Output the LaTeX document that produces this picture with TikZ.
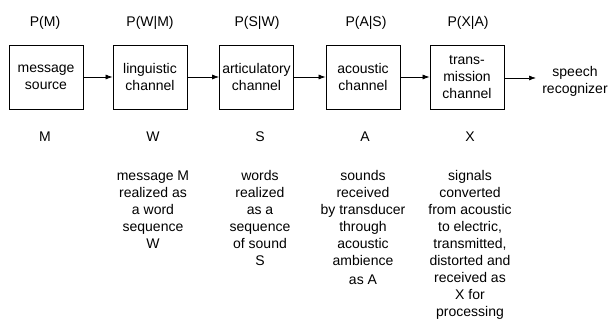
\documentclass[tikz,border=0pt]{standalone}
\usepackage{fontspec}
\setmainfont{Liberation Sans}
\usetikzlibrary{arrows.meta}
\begin{document}
\begin{tikzpicture}[x=1pt,y=1pt,
  every node/.style={font=\fontsize{14}{17}\selectfont, inner sep=0pt},
  blk/.style={draw, line width=0.8pt, minimum width=74pt, minimum height=64pt, align=center},
  desc/.style={align=center, anchor=north},
  lbl/.style={anchor=base},
  arr/.style={line width=0.7pt, -{Latex[length=7pt,width=5pt]}}]
\useasboundingbox (0,0) rectangle (609,328);
% boxes
\node[blk] (b1) at (46,251) {message\\source};
\node[blk] (b2) at (150,251) {linguistic\\channel};
\node[blk] (b3) at (256.5,251) {articulatory\\channel};
\node[blk] (b4) at (363,251) {acoustic\\channel};
\node[blk] (b5) at (467,251) {trans-\\mission\\channel};
\node[align=center] (sr) at (575,247) {speech\\recognizer};
\coordinate (end) at (536,250);
% arrows
\draw[arr] (b1.east) -- (b2.west);
\draw[arr] (b2.east) -- (b3.west);
\draw[arr] (b3.east) -- (b4.west);
\draw[arr] (b4.east) -- (b5.west);
\draw[arr] (b5.east |- end) -- (end);
% top labels
\node[lbl] (p1) at (45,301) {P(M)};
\node[lbl] (p2) at (150,301) {P(W|M)};
\node[lbl] (p3) at (257,301) {P(S|W)};
\node[lbl] (p4) at (366,301) {P(A|S)};
\node[lbl] (p5) at (468,301) {P(X|A)};
% bottom letters
\node[lbl] (l1) at (45,186) {M};
\node[lbl] (l2) at (153,186) {W};
\node[lbl] (l3) at (260,186) {S};
\node[lbl] (l4) at (365,186) {A};
\node[lbl] (l5) at (470,186) {X};
% descriptions
\node[desc] (d2) at (153,157.5) {message M\\realized as\\a word\\sequence\\W};
\node[desc] (d3) at (260,157.5) {words\\realized\\as a\\sequence\\of sound\\S};
\node[desc] (d4) at (363,157.5) {sounds\\received\\by transducer\\through\\acoustic\\ambience\\[2pt]as A};
\node[desc] (d5) at (470,157.5) {signals\\converted\\from acoustic\\to electric,\\transmitted,\\distorted and\\received as\\X for\\processing};
\end{tikzpicture}
\end{document}
